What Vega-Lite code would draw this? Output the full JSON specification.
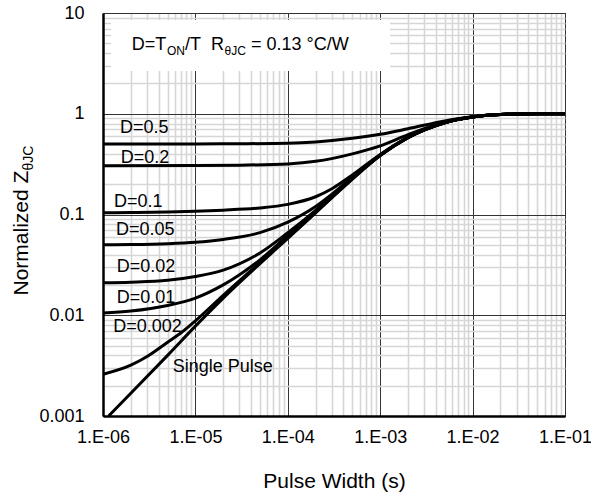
{
  "$schema": "https://vega.github.io/schema/vega-lite/v6.json",
  "width": 462,
  "height": 403,
  "autosize": {"type": "none"},
  "padding": {"left": 103, "top": 13, "right": 26, "bottom": 83},
  "background": "white",
  "config": {
    "view": {"stroke": "#3a3a3a", "strokeWidth": 1},
    "font": "Liberation Sans",
    "text": {"font": "Liberation Sans", "color": "black"}
  },
  "datasets": {
    "box": [{"t": 1.22e-6, "t2": 1.277e-3, "z": 2.657, "z2": 8.52}],
    "curves": [
      {"s": "Single", "t": 1.15e-6, "z": 0.001}, {"s": "Single", "t": 2e-6, "z": 0.00168}, {"s": "Single", "t": 5e-6, "z": 0.0040}, {"s": "Single", "t": 1e-5, "z": 0.0078}, {"s": "Single", "t": 2e-5, "z": 0.0148}, {"s": "Single", "t": 5e-5, "z": 0.0325}, {"s": "Single", "t": 1e-4, "z": 0.058}, {"s": "Single", "t": 2e-4, "z": 0.104}, {"s": "Single", "t": 3e-4, "z": 0.147}, {"s": "Single", "t": 5e-4, "z": 0.225}, {"s": "Single", "t": 1e-3, "z": 0.385}, {"s": "Single", "t": 2e-3, "z": 0.58}, {"s": "Single", "t": 5e-3, "z": 0.815}, {"s": "Single", "t": 1e-2, "z": 0.93}, {"s": "Single", "t": 2e-2, "z": 0.982}, {"s": "Single", "t": 3e-2, "z": 0.996}, {"s": "Single", "t": 5e-2, "z": 1.0}, {"s": "Single", "t": 1e-1, "z": 1.0},
      {"s": "0.002", "t": 1e-6, "z": 0.0026}, {"s": "0.002", "t": 2e-6, "z": 0.0032}, {"s": "0.002", "t": 3e-6, "z": 0.0039}, {"s": "0.002", "t": 5e-6, "z": 0.0054}, {"s": "0.002", "t": 7e-6, "z": 0.0067}, {"s": "0.002", "t": 1e-5, "z": 0.0088}, {"s": "0.002", "t": 2e-5, "z": 0.0158}, {"s": "0.002", "t": 5e-5, "z": 0.0335}, {"s": "0.002", "t": 1e-4, "z": 0.059}, {"s": "0.002", "t": 2e-4, "z": 0.105}, {"s": "0.002", "t": 3e-4, "z": 0.148}, {"s": "0.002", "t": 5e-4, "z": 0.226}, {"s": "0.002", "t": 1e-3, "z": 0.386}, {"s": "0.002", "t": 2e-3, "z": 0.58}, {"s": "0.002", "t": 5e-3, "z": 0.815}, {"s": "0.002", "t": 1e-2, "z": 0.93}, {"s": "0.002", "t": 2e-2, "z": 0.982}, {"s": "0.002", "t": 3e-2, "z": 0.996}, {"s": "0.002", "t": 5e-2, "z": 1.0}, {"s": "0.002", "t": 1e-1, "z": 1.0},
      {"s": "0.01", "t": 1e-6, "z": 0.0105}, {"s": "0.01", "t": 2e-6, "z": 0.011}, {"s": "0.01", "t": 5e-6, "z": 0.0125}, {"s": "0.01", "t": 1e-5, "z": 0.0148}, {"s": "0.01", "t": 2e-5, "z": 0.020}, {"s": "0.01", "t": 5e-5, "z": 0.0355}, {"s": "0.01", "t": 1e-4, "z": 0.062}, {"s": "0.01", "t": 2e-4, "z": 0.107}, {"s": "0.01", "t": 3e-4, "z": 0.15}, {"s": "0.01", "t": 5e-4, "z": 0.228}, {"s": "0.01", "t": 1e-3, "z": 0.387}, {"s": "0.01", "t": 2e-3, "z": 0.58}, {"s": "0.01", "t": 5e-3, "z": 0.815}, {"s": "0.01", "t": 1e-2, "z": 0.93}, {"s": "0.01", "t": 2e-2, "z": 0.982}, {"s": "0.01", "t": 3e-2, "z": 0.996}, {"s": "0.01", "t": 5e-2, "z": 1.0}, {"s": "0.01", "t": 1e-1, "z": 1.0},
      {"s": "0.02", "t": 1e-6, "z": 0.021}, {"s": "0.02", "t": 2e-6, "z": 0.0213}, {"s": "0.02", "t": 5e-6, "z": 0.0222}, {"s": "0.02", "t": 1e-5, "z": 0.0242}, {"s": "0.02", "t": 2e-5, "z": 0.028}, {"s": "0.02", "t": 5e-5, "z": 0.0415}, {"s": "0.02", "t": 1e-4, "z": 0.066}, {"s": "0.02", "t": 2e-4, "z": 0.11}, {"s": "0.02", "t": 3e-4, "z": 0.152}, {"s": "0.02", "t": 5e-4, "z": 0.23}, {"s": "0.02", "t": 1e-3, "z": 0.388}, {"s": "0.02", "t": 2e-3, "z": 0.581}, {"s": "0.02", "t": 5e-3, "z": 0.815}, {"s": "0.02", "t": 1e-2, "z": 0.93}, {"s": "0.02", "t": 2e-2, "z": 0.982}, {"s": "0.02", "t": 3e-2, "z": 0.996}, {"s": "0.02", "t": 5e-2, "z": 1.0}, {"s": "0.02", "t": 1e-1, "z": 1.0},
      {"s": "0.05", "t": 1e-6, "z": 0.050}, {"s": "0.05", "t": 2e-6, "z": 0.0503}, {"s": "0.05", "t": 5e-6, "z": 0.0513}, {"s": "0.05", "t": 1e-5, "z": 0.053}, {"s": "0.05", "t": 2e-5, "z": 0.0565}, {"s": "0.05", "t": 5e-5, "z": 0.066}, {"s": "0.05", "t": 1e-4, "z": 0.084}, {"s": "0.05", "t": 2e-4, "z": 0.12}, {"s": "0.05", "t": 3e-4, "z": 0.159}, {"s": "0.05", "t": 5e-4, "z": 0.235}, {"s": "0.05", "t": 1e-3, "z": 0.39}, {"s": "0.05", "t": 2e-3, "z": 0.582}, {"s": "0.05", "t": 5e-3, "z": 0.816}, {"s": "0.05", "t": 1e-2, "z": 0.93}, {"s": "0.05", "t": 2e-2, "z": 0.982}, {"s": "0.05", "t": 3e-2, "z": 0.996}, {"s": "0.05", "t": 5e-2, "z": 1.0}, {"s": "0.05", "t": 1e-1, "z": 1.0},
      {"s": "0.1", "t": 1e-6, "z": 0.104}, {"s": "0.1", "t": 2e-6, "z": 0.1045}, {"s": "0.1", "t": 5e-6, "z": 0.106}, {"s": "0.1", "t": 1e-5, "z": 0.108}, {"s": "0.1", "t": 2e-5, "z": 0.1105}, {"s": "0.1", "t": 5e-5, "z": 0.116}, {"s": "0.1", "t": 1e-4, "z": 0.126}, {"s": "0.1", "t": 2e-4, "z": 0.15}, {"s": "0.1", "t": 3e-4, "z": 0.18}, {"s": "0.1", "t": 5e-4, "z": 0.247}, {"s": "0.1", "t": 1e-3, "z": 0.395}, {"s": "0.1", "t": 2e-3, "z": 0.585}, {"s": "0.1", "t": 5e-3, "z": 0.818}, {"s": "0.1", "t": 1e-2, "z": 0.93}, {"s": "0.1", "t": 2e-2, "z": 0.982}, {"s": "0.1", "t": 3e-2, "z": 0.996}, {"s": "0.1", "t": 5e-2, "z": 1.0}, {"s": "0.1", "t": 1e-1, "z": 1.0},
      {"s": "0.2", "t": 1e-6, "z": 0.305}, {"s": "0.2", "t": 1e-5, "z": 0.306}, {"s": "0.2", "t": 3e-5, "z": 0.309}, {"s": "0.2", "t": 1e-4, "z": 0.318}, {"s": "0.2", "t": 2e-4, "z": 0.337}, {"s": "0.2", "t": 5e-4, "z": 0.40}, {"s": "0.2", "t": 1e-3, "z": 0.48}, {"s": "0.2", "t": 2e-3, "z": 0.62}, {"s": "0.2", "t": 5e-3, "z": 0.83}, {"s": "0.2", "t": 1e-2, "z": 0.932}, {"s": "0.2", "t": 2e-2, "z": 0.982}, {"s": "0.2", "t": 3e-2, "z": 0.996}, {"s": "0.2", "t": 5e-2, "z": 1.0}, {"s": "0.2", "t": 1e-1, "z": 1.0},
      {"s": "0.5", "t": 1e-6, "z": 0.50}, {"s": "0.5", "t": 1e-5, "z": 0.502}, {"s": "0.5", "t": 3e-5, "z": 0.504}, {"s": "0.5", "t": 1e-4, "z": 0.51}, {"s": "0.5", "t": 2e-4, "z": 0.525}, {"s": "0.5", "t": 5e-4, "z": 0.57}, {"s": "0.5", "t": 1e-3, "z": 0.625}, {"s": "0.5", "t": 2e-3, "z": 0.71}, {"s": "0.5", "t": 5e-3, "z": 0.85}, {"s": "0.5", "t": 1e-2, "z": 0.935}, {"s": "0.5", "t": 2e-2, "z": 0.982}, {"s": "0.5", "t": 3e-2, "z": 0.996}, {"s": "0.5", "t": 5e-2, "z": 1.0}, {"s": "0.5", "t": 1e-1, "z": 1.0}
    ],
    "labels": [
      {"label": "D=0.5", "t": 1.53e-6, "z": 0.64},
      {"label": "D=0.2", "t": 1.555e-6, "z": 0.3266},
      {"label": "D=0.1", "t": 1.315e-6, "z": 0.1195},
      {"label": "D=0.05", "t": 1.383e-6, "z": 0.0626},
      {"label": "D=0.02", "t": 1.407e-6, "z": 0.02668},
      {"label": "D=0.01", "t": 1.407e-6, "z": 0.01314},
      {"label": "D=0.002", "t": 1.293e-6, "z": 0.00687},
      {"label": "Single Pulse", "t": 5.68e-6, "z": 0.002752}
    ],
    "annotMain": [
      {"label": "D=T", "t": 2.046e-6, "z": 4.295},
      {"label": "/T", "t": 7.72e-6, "z": 4.295},
      {"label": "R", "t": 1.475e-5, "z": 4.295},
      {"label": "= 0.13 °C/W", "t": 4.0e-5, "z": 4.295}
    ],
    "annotSub": [
      {"label": "ON", "t": 4.93e-6, "z": 3.873},
      {"label": "θJC", "t": 2.065e-5, "z": 3.873}
    ]
  },
  "layer": [
    {
      "data": {"name": "box"},
      "mark": {"type": "rect", "fill": "white", "stroke": null},
      "encoding": {
        "x": {
          "field": "t", "type": "quantitative",
          "scale": {"type": "log", "domain": [1e-6, 0.1], "nice": false},
          "axis": {
            "orient": "bottom",
            "values": [1e-6, 2e-6, 3e-6, 4e-6, 5e-6, 6e-6, 7e-6, 8e-6, 9e-6, 1e-5, 2e-5, 3e-5, 4e-5, 5e-5, 6e-5, 7e-5, 8e-5, 9e-5, 1e-4, 2e-4, 3e-4, 4e-4, 5e-4, 6e-4, 7e-4, 8e-4, 9e-4, 1e-3, 2e-3, 3e-3, 4e-3, 5e-3, 6e-3, 7e-3, 8e-3, 9e-3, 1e-2, 2e-2, 3e-2, 4e-2, 5e-2, 6e-2, 7e-2, 8e-2, 9e-2, 1e-1],
            "labelExpr": "abs(log(datum.value)/LN10 - round(log(datum.value)/LN10)) < 0.01 ? '1.E-0' + (-round(log(datum.value)/LN10)) : ''",
            "grid": true,
            "gridColor": {"condition": {"test": "abs(log(datum.value)/LN10 - round(log(datum.value)/LN10)) < 0.01", "value": "#333333"}, "value": "#d6d6d6"},
            "gridWidth": {"condition": {"test": "abs(log(datum.value)/LN10 - round(log(datum.value)/LN10)) < 0.01", "value": 1}, "value": 1.6},
            "ticks": false, "tickSize": 0,
            "domainColor": "black", "domainWidth": 2.5,
            "labelFont": "Liberation Sans", "labelFontSize": 18, "labelColor": "black",
            "labelPadding": 12, "labelFlush": false, "labelOverlap": false, "labelBaseline": "top",
            "title": "Pulse Width (s)", "titleFont": "Liberation Sans", "titleFontSize": 21, "titleFontWeight": "normal", "titleColor": "black",
            "titleBaseline": "alphabetic", "titleY": 71
          }
        },
        "x2": {"field": "t2"},
        "y": {
          "field": "z", "type": "quantitative",
          "scale": {"type": "log", "domain": [0.001, 10], "nice": false},
          "axis": {
            "orient": "left",
            "values": [0.001, 0.002, 0.003, 0.004, 0.005, 0.006, 0.007, 0.008, 0.009, 0.01, 0.02, 0.03, 0.04, 0.05, 0.06, 0.07, 0.08, 0.09, 0.1, 0.2, 0.3, 0.4, 0.5, 0.6, 0.7, 0.8, 0.9, 1, 2, 3, 4, 5, 6, 7, 8, 9, 10],
            "format": "~g",
            "labelExpr": "abs(log(datum.value)/LN10 - round(log(datum.value)/LN10)) < 0.01 ? datum.label : ''",
            "grid": true,
            "gridColor": {"condition": {"test": "abs(log(datum.value)/LN10 - round(log(datum.value)/LN10)) < 0.01", "value": "#333333"}, "value": "#d6d6d6"},
            "gridWidth": {"condition": {"test": "abs(log(datum.value)/LN10 - round(log(datum.value)/LN10)) < 0.01", "value": 1}, "value": 1.6},
            "ticks": false, "tickSize": 0,
            "domainColor": "black", "domainWidth": 2.5,
            "labelFont": "Liberation Sans", "labelFontSize": 18, "labelColor": "black",
            "labelPadding": 19, "labelFlush": false, "labelOverlap": false, "labelBaseline": "middle",
            "title": "Normalized Z", "titleFont": "Liberation Sans", "titleFontSize": 21, "titleFontWeight": "normal", "titleColor": "black",
            "titleAngle": 270, "titleAlign": "left", "titleBaseline": "alphabetic", "titleX": -76, "titleY": 282
          }
        },
        "y2": {"field": "z2"}
      }
    },
    {
      "data": {"name": "curves"},
      "mark": {"type": "line", "color": "black", "strokeWidth": 3, "interpolate": "monotone", "clip": true},
      "encoding": {
        "x": {"field": "t", "type": "quantitative", "scale": {"type": "log", "domain": [1e-6, 0.1], "nice": false}, "axis": null},
        "y": {"field": "z", "type": "quantitative", "scale": {"type": "log", "domain": [0.001, 10], "nice": false}, "axis": null},
        "detail": {"field": "s"}
      }
    },
    {
      "data": {"name": "labels"},
      "mark": {"type": "text", "align": "left", "baseline": "alphabetic", "fontSize": 18, "font": "Liberation Sans", "color": "black"},
      "encoding": {
        "x": {"field": "t", "type": "quantitative", "scale": {"type": "log", "domain": [1e-6, 0.1], "nice": false}, "axis": null},
        "y": {"field": "z", "type": "quantitative", "scale": {"type": "log", "domain": [0.001, 10], "nice": false}, "axis": null},
        "text": {"field": "label"}
      }
    },
    {
      "data": {"name": "annotMain"},
      "mark": {"type": "text", "align": "left", "baseline": "alphabetic", "fontSize": 18, "font": "Liberation Sans", "color": "black"},
      "encoding": {
        "x": {"field": "t", "type": "quantitative", "scale": {"type": "log", "domain": [1e-6, 0.1], "nice": false}, "axis": null},
        "y": {
          "field": "z", "type": "quantitative", "scale": {"type": "log", "domain": [0.001, 10], "nice": false},
          "axis": {
            "orient": "left", "labels": false, "ticks": false, "domain": false, "grid": false,
            "title": "θJC", "titleFont": "Liberation Sans", "titleFontSize": 14, "titleFontWeight": "normal", "titleColor": "black",
            "titleAngle": 270, "titleAlign": "left", "titleBaseline": "alphabetic", "titleX": -71, "titleY": 157
          }
        },
        "text": {"field": "label"}
      }
    },
    {
      "data": {"name": "annotSub"},
      "mark": {"type": "text", "align": "left", "baseline": "alphabetic", "fontSize": 12, "font": "Liberation Sans", "color": "black"},
      "encoding": {
        "x": {"field": "t", "type": "quantitative", "scale": {"type": "log", "domain": [1e-6, 0.1], "nice": false}, "axis": null},
        "y": {"field": "z", "type": "quantitative", "scale": {"type": "log", "domain": [0.001, 10], "nice": false}, "axis": null},
        "text": {"field": "label"}
      }
    }
  ],
  "resolve": {"axis": {"x": "independent", "y": "independent"}}
}
